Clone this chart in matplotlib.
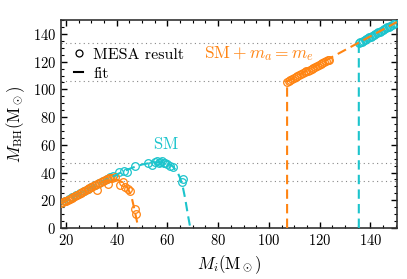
import matplotlib
matplotlib.use("Agg")
import matplotlib.pyplot as plt
from matplotlib.ticker import MultipleLocator
from matplotlib.lines import Line2D

plt.rcParams['font.family'] = 'cmr10'
plt.rcParams['mathtext.fontset'] = 'cm'
plt.rcParams['axes.formatter.use_mathtext'] = True

ORANGE = '#ff8412'
CYAN = '#1cc4cc'

# MESA results, SM + m_a = m_e (orange)
mesa_orange_x = [18.0, 18.7, 19.4, 20.1, 20.8, 21.5, 22.2, 22.9, 23.6, 24.3, 25.0, 25.7,
                 26.4, 27.1, 27.8, 28.5, 29.2, 29.9, 30.6, 31.3, 32.1, 32.0, 33.0, 33.8,
                 34.6, 35.4, 36.2, 36.7, 37.0, 37.4, 38.2, 39.3, 41.3, 42.6, 43.3, 44.6,
                 45.3, 47.2, 47.5,
                 107.1, 107.8, 108.5, 109.2, 109.9, 110.6, 111.3, 112.0, 112.7, 113.4,
                 114.1, 114.8, 115.5, 116.2, 116.9, 117.6, 118.3, 119.0, 119.7, 120.4,
                 121.1, 121.8, 122.5, 123.2, 123.6]
mesa_orange_y = [17.8, 18.4, 19.1, 19.8, 20.5, 21.2, 21.9, 22.5, 23.2, 23.9, 24.6, 25.3,
                 25.9, 26.6, 27.3, 28.0, 28.7, 29.3, 30.0, 30.7, 27.3, 31.4, 32.3, 33.0,
                 33.8, 34.5, 35.3, 32.0, 35.8, 35.7, 36.3, 36.9, 30.9, 33.0, 29.6, 27.8,
                 27.0, 14.0, 10.4,
                 105.6, 106.3, 107.0, 107.6, 108.3, 109.0, 109.6, 110.3, 111.0, 111.6,
                 112.3, 113.0, 113.6, 114.3, 115.0, 115.6, 116.3, 117.0, 117.6, 118.3,
                 119.0, 119.6, 120.3, 121.0, 121.3]

# MESA results, SM (cyan)
mesa_cyan_x = [18.0, 19.5, 21.0, 22.5, 24.0, 25.5, 27.0, 28.5, 30.0, 31.5, 33.0, 34.5,
               36.0, 37.4, 38.5, 41.0, 43.0, 44.0, 47.2, 52.5, 53.8, 55.0, 55.8, 56.5,
               57.2, 57.8, 58.5, 59.2, 60.0, 61.0, 62.0, 65.7, 66.3,
               135.4, 136.0, 136.6, 137.2, 137.8, 138.4, 139.0, 139.6, 140.2, 140.8,
               141.4, 142.0, 142.6, 143.2, 143.8, 144.4, 145.0, 145.6, 146.2, 146.8,
               147.4, 148.0, 148.6, 149.2, 149.9]
mesa_cyan_y = [17.8, 19.2, 20.7, 22.1, 23.6, 25.0, 26.5, 27.9, 29.3, 30.8, 32.2, 33.7,
               35.1, 36.5, 37.5, 40.5, 41.0, 40.5, 44.6, 46.6, 45.3, 47.5, 48.0, 47.0,
               47.8, 48.0, 47.2, 46.8, 46.0, 45.0, 44.0, 33.3, 35.0,
               133.3, 133.9, 134.5, 135.1, 135.7, 136.3, 136.9, 137.5, 138.1, 138.7,
               139.3, 139.9, 140.5, 141.1, 141.7, 142.3, 142.9, 143.5, 144.1, 144.7,
               145.3, 145.9, 146.5, 147.1, 147.8]

# fits
fit_orange_lo_x = [18, 22, 26, 30, 34, 36, 38, 40, 42, 43, 44, 45, 46, 47, 47.8, 48.5]
fit_orange_lo_y = [17.6, 21.5, 25.4, 29.3, 33.0, 34.5, 35.2, 34.8, 33.2, 31.8, 29.6,
                   26.0, 21.0, 13.0, 6.0, 0.0]
fit_orange_hi_x = [107.2, 107.2, 150.5]
fit_orange_hi_y = [0.0, 105.8, 148.6]

fit_cyan_lo_x = [18, 22, 26, 30, 34, 38, 42, 46, 50, 54, 57, 60, 62, 64, 65, 66, 67, 68, 69]
fit_cyan_lo_y = [17.6, 21.5, 25.4, 29.3, 33.0, 36.8, 40.3, 43.4, 45.8, 47.2, 47.5, 46.6,
                 44.6, 40.0, 36.0, 30.0, 21.0, 10.0, 0.0]
fit_cyan_hi_x = [135.5, 135.5, 150.5]
fit_cyan_hi_y = [0.0, 133.6, 148.6]

# dotted guide levels
guide_levels = [133.8, 106.3, 47.0, 34.2]

fig, ax = plt.subplots(figsize=(4.07, 2.79), dpi=100)
fig.subplots_adjust(left=0.150, right=0.975, top=0.928, bottom=0.183)

for lvl in guide_levels:
    ax.axhline(lvl, color='#888888', ls=(0, (1, 3)), lw=0.8, zorder=1)

mk = dict(marker='o', ls='none', mfc='none', ms=5.5, mew=0.9, zorder=3)
dash = (0, (4.5, 2.5))
ax.plot(mesa_cyan_x, mesa_cyan_y, mec=CYAN, **mk)
ax.plot(fit_cyan_lo_x, fit_cyan_lo_y, color=CYAN, ls=dash, lw=1.5, zorder=4)
ax.plot(fit_cyan_hi_x, fit_cyan_hi_y, color=CYAN, ls=dash, lw=1.5, zorder=4)
ax.plot(mesa_orange_x, mesa_orange_y, mec=ORANGE, **mk)
ax.plot(fit_orange_lo_x, fit_orange_lo_y, color=ORANGE, ls=dash, lw=1.5, zorder=5)
ax.plot(fit_orange_hi_x, fit_orange_hi_y, color=ORANGE, ls=dash, lw=1.5, zorder=5)

ax.text(59.5, 60.5, r'$\mathrm{SM}$', color=CYAN, fontsize=12, ha='center', va='center')
ax.text(96, 126, r'$\mathrm{SM} + m_a = m_e$', color=ORANGE, fontsize=12.5,
        ha='center', va='center')

ax.set_xlim(18, 150.5)
ax.set_ylim(0, 150)
ax.xaxis.set_major_locator(MultipleLocator(20))
ax.xaxis.set_minor_locator(MultipleLocator(5))
ax.yaxis.set_major_locator(MultipleLocator(20))
ax.yaxis.set_minor_locator(MultipleLocator(5))
ax.tick_params(which='both', direction='in', top=True, right=True, labelsize=10.5)
ax.tick_params(which='major', length=4, width=1.0)
ax.tick_params(which='minor', length=2, width=0.8)
for s in ax.spines.values():
    s.set_linewidth(1.2)
    s.set_color('#333333')

ax.set_xlabel(r'$M_i(\rm M_\odot)$', fontsize=12, labelpad=4)
ax.set_ylabel(r'$M_{\rm BH}(\rm M_\odot)$', fontsize=12, labelpad=4)

handles = [Line2D([], [], marker='o', ls='none', mfc='none', mec='black', ms=5, mew=0.9),
           Line2D([], [], color='black', lw=1.5)]
ax.legend(handles, ['MESA result', 'fit'], loc='upper left', frameon=False,
          fontsize=11.5, handlelength=0.6, handletextpad=0.6, borderaxespad=0.4,
          labelspacing=0.3, bbox_to_anchor=(0.0, 0.93))

fig.savefig('out.png', dpi=100)
